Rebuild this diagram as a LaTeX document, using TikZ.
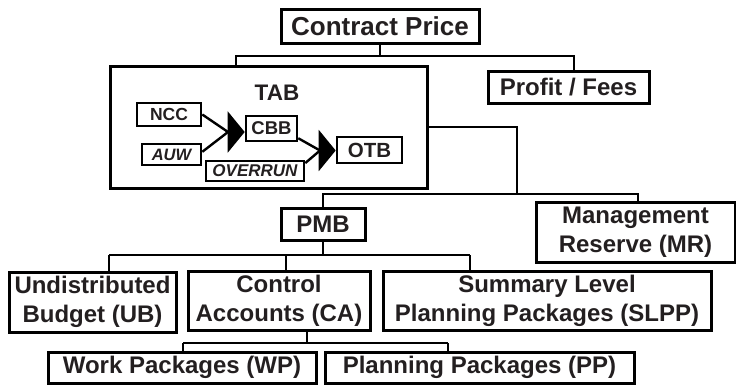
\documentclass[tikz,border=0pt]{standalone}
\usepackage{fontspec}
\setmainfont{Liberation Sans}
\usetikzlibrary{arrows.meta}
\definecolor{ink}{HTML}{231F20}

\begin{document}
\begin{tikzpicture}[x=1pt,y=-1pt,line width=2.4pt,
    block/.style={draw,line width=3pt,inner sep=0pt,align=center,text=ink,
      font=\fontsize{24}{29}\selectfont\bfseries},
    small/.style={block,line width=2.6pt,font=\fontsize{17.5}{20}\selectfont\bfseries},
    bigtip/.style={-{Triangle[length=17pt,width=41pt]}}]

  \useasboundingbox (0,0) rectangle (736,384);

  % top level
  \node[block,minimum width=198pt,minimum height=34pt,
        font=\fontsize{26}{29}\selectfont\bfseries] (CP) at (380,26) {Contract Price};
  \node[block,minimum width=161pt,minimum height=32pt,
        font=\fontsize{24}{29}\selectfont\bfseries] (PF) at (568.5,87) {Profit / Fees};

  % TAB and its parts
  \node[block,minimum width=317pt,minimum height=122pt] (TAB) at (268.5,127) {};
  \node[text=ink,font=\fontsize{22.5}{26}\selectfont\bfseries] (TABlbl) at (277,93) {TAB};
  \node[small,minimum width=64pt,minimum height=23pt] (NCC) at (169,114.5) {NCC};
  \node[small,minimum width=59pt,minimum height=21pt,
        font=\fontsize{16.5}{20}\selectfont\bfseries\itshape] (AUW) at (171.5,154.5) {AUW};
  \node[small,minimum width=51pt,minimum height=25pt,
        font=\fontsize{18.5}{20}\selectfont\bfseries] (CBB) at (271.5,128.5) {CBB};
  \node[small,minimum width=65pt,minimum height=26pt,
        font=\fontsize{20.5}{22}\selectfont\bfseries] (OTB) at (369.5,150) {OTB};
  \node[small,minimum width=98pt,minimum height=20pt,
        font=\fontsize{17}{20}\selectfont\bfseries\itshape] (OVERRUN) at (255,171) {OVERRUN};

  % budget levels
  \node[block,minimum width=84pt,minimum height=32pt] (PMB) at (323,224) {PMB};
  \node[block,minimum width=199pt,minimum height=60pt] (MR) at (635.5,232) {Management\\Reserve (MR)};
  \node[block,minimum width=167pt,minimum height=60pt] (UB) at (92.5,302) {Undistributed\\Budget (UB)};
  \node[block,minimum width=182pt,minimum height=59pt] (CA) at (279,300.5) {Control\\Accounts (CA)};
  \node[block,minimum width=328pt,minimum height=59pt] (SLPP) at (547,300.5) {Summary Level\\Planning Packages (SLPP)};
  \node[block,minimum width=268pt,minimum height=31pt] (WP) at (182,367.5) {Work Packages (WP)};
  \node[block,minimum width=309pt,minimum height=31pt] (PP) at (479.5,367.5) {Planning Packages (PP)};

  % arrows inside TAB
  \coordinate (j1) at (228,132);
  \coordinate (j2) at (320,150.5);
  \draw (NCC.east) -- (j1);
  \draw (AUW.5) -- (j1);
  \draw[bigtip] (j1) -- (CBB.west |- j1);
  \draw (CBB.-20) -- (j2);
  \draw (OVERRUN.9) -- (j2);
  \draw[bigtip] (j2) -- (OTB.west |- j2);

  % tree lines
  \coordinate (c1) at (236,56);
  \coordinate (c2) at (574,56);
  \draw (CP.south) |- (c1) -- (c1 |- TAB.north);
  \draw (CP.south) |- (c2) -- (c2 |- PF.north);

  \coordinate (c3) at (517,194);
  \coordinate (c5) at (638,194);
  \draw (TAB.east) -| (c3);
  \draw (PMB.north) |- (c5) -- (c5 |- MR.north);

  \coordinate (c6) at (323,255);
  \coordinate (d1) at (109,255);
  \coordinate (d2) at (286,255);
  \coordinate (d3) at (470,255);
  \draw (PMB.south) -- (c6);
  \draw (d1) -- (d3);
  \draw (d1) -- (d1 |- UB.north);
  \draw (d2) -- (d2 |- CA.north);
  \draw (d3) -- (d3 |- SLPP.north);

  \coordinate (e1) at (307,343);
  \coordinate (e2) at (183,343);
  \coordinate (e3) at (448,343);
  \draw (e1 |- CA.south) -- (e1);
  \draw (e2) -- (e3);
  \draw (e2) -- (e2 |- WP.north);
  \draw (e3) -- (e3 |- PP.north);

\end{tikzpicture}
\end{document}
